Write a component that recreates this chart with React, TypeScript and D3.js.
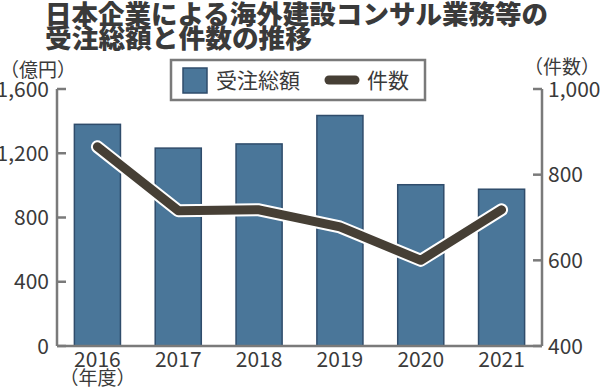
import React from 'react';
import * as d3 from 'd3';

// 年度
const years = ['2016', '2017', '2018', '2019', '2020', '2021'];
// 受注総額（億円）
const amounts = [1380, 1232, 1258, 1435, 1004, 976];
// 件数
const counts = [865, 716, 718, 678, 600, 718];

const leftTicks = [0, 400, 800, 1200, 1600];
const rightTicks = [400, 600, 800, 1000];

const titleLines = ['日本企業による海外建設コンサル業務等の', '受注総額と件数の推移'];

const W = 601;
const H = 387;
const font = '"Noto Sans CJK JP", "Noto Sans", sans-serif';
const textColor = '#3a3a3a';
const axisColor = '#7a7a7a';
const barColor = '#4a7699';
const barStroke = '#2f4c6b';
const lineColor = '#463f35';

const App = () => {
    // plot area
    const left = 57;
    const right = 542;
    const top = 89;
    const bottom = 346;

    const x = d3.scaleBand()
        .domain(years)
        .range([left, right])
        .paddingInner(0.43)
        .paddingOuter(0.215);

    const yL = d3.scaleLinear().domain([0, 1600]).range([bottom, top]);
    const yR = d3.scaleLinear().domain([400, 1000]).range([bottom, top]);

    const line = d3.line<number>()
        .x((d, i) => (x(years[i]) as number) + x.bandwidth() / 2)
        .y(d => yR(d));

    const path = line(counts) || '';

    return (
        <svg width={W} height={H} style={{ position: 'absolute', left: 0, top: 0 }} fontFamily={font}>
            <rect width={W} height={H} fill="#fff" />

            {/* title */}
            <text x={45} y={24} fontSize={26} fontWeight={900} fill={textColor} textLength={503} lengthAdjust="spacingAndGlyphs">{titleLines[0]}</text>
            <text x={45} y={48} fontSize={26} fontWeight={900} fill={textColor} textLength={267} lengthAdjust="spacingAndGlyphs">{titleLines[1]}</text>

            {/* unit labels */}
            <text x={0} y={77} fontSize={19} fill={textColor}>（億円）</text>
            <text x={600} y={74} fontSize={19} fill={textColor} textAnchor="end">（件数）</text>

            {/* bars */}
            {amounts.map((v, i) => (
                <rect key={years[i]}
                    x={x(years[i])}
                    y={yL(v)}
                    width={x.bandwidth()}
                    height={yL(0) - yL(v)}
                    fill={barColor}
                    stroke={barStroke}
                    strokeWidth={1.5} />
            ))}

            {/* axes */}
            <g stroke={axisColor} strokeWidth={2.5} fill="none">
                <line x1={left} x2={left} y1={top} y2={bottom} />
                <line x1={right} x2={right} y1={top} y2={bottom} />
                <line x1={left} x2={right} y1={bottom} y2={bottom} />
                {leftTicks.map(t => (
                    <line key={t} x1={left} x2={left + 9} y1={yL(t)} y2={yL(t)} />
                ))}
                {rightTicks.map(t => (
                    <line key={t} x1={right - 9} x2={right} y1={yR(t)} y2={yR(t)} />
                ))}
            </g>

            {leftTicks.map(t => (
                <text key={t} x={49} y={yL(t)} dy="0.36em" fontSize={21} fill={textColor} textAnchor="end">
                    {d3.format(',')(t)}
                </text>
            ))}
            {rightTicks.map(t => (
                <text key={t} x={548} y={yR(t)} dy="0.36em" fontSize={21} fill={textColor}>
                    {d3.format(',')(t)}
                </text>
            ))}
            {years.map(yr => (
                <text key={yr} x={(x(yr) as number) + x.bandwidth() / 2} y={367} fontSize={21} fill={textColor} textAnchor="middle">
                    {yr}
                </text>
            ))}
            <text x={(x(years[0]) as number) + x.bandwidth() / 2} y={385} fontSize={19} fill={textColor} textAnchor="middle">（年度）</text>

            {/* line with white casing */}
            <path d={path} fill="none" stroke="#fff" strokeWidth={13} strokeLinecap="round" strokeLinejoin="round" />
            <path d={path} fill="none" stroke={lineColor} strokeWidth={9} strokeLinecap="round" strokeLinejoin="round" />

            {/* legend */}
            <rect x={171} y={60} width={254} height={40} fill="#fff" stroke={axisColor} strokeWidth={2.5} />
            <rect x={183} y={68} width={24} height={25} fill={barColor} stroke={barStroke} strokeWidth={1.5} />
            <text x={216} y={88} fontSize={21} fill={textColor}>受注総額</text>
            <line x1={329} x2={355} y1={80} y2={80} stroke={lineColor} strokeWidth={9} strokeLinecap="round" />
            <text x={367} y={88} fontSize={21} fill={textColor}>件数</text>
        </svg>
    );
};

export default App;
